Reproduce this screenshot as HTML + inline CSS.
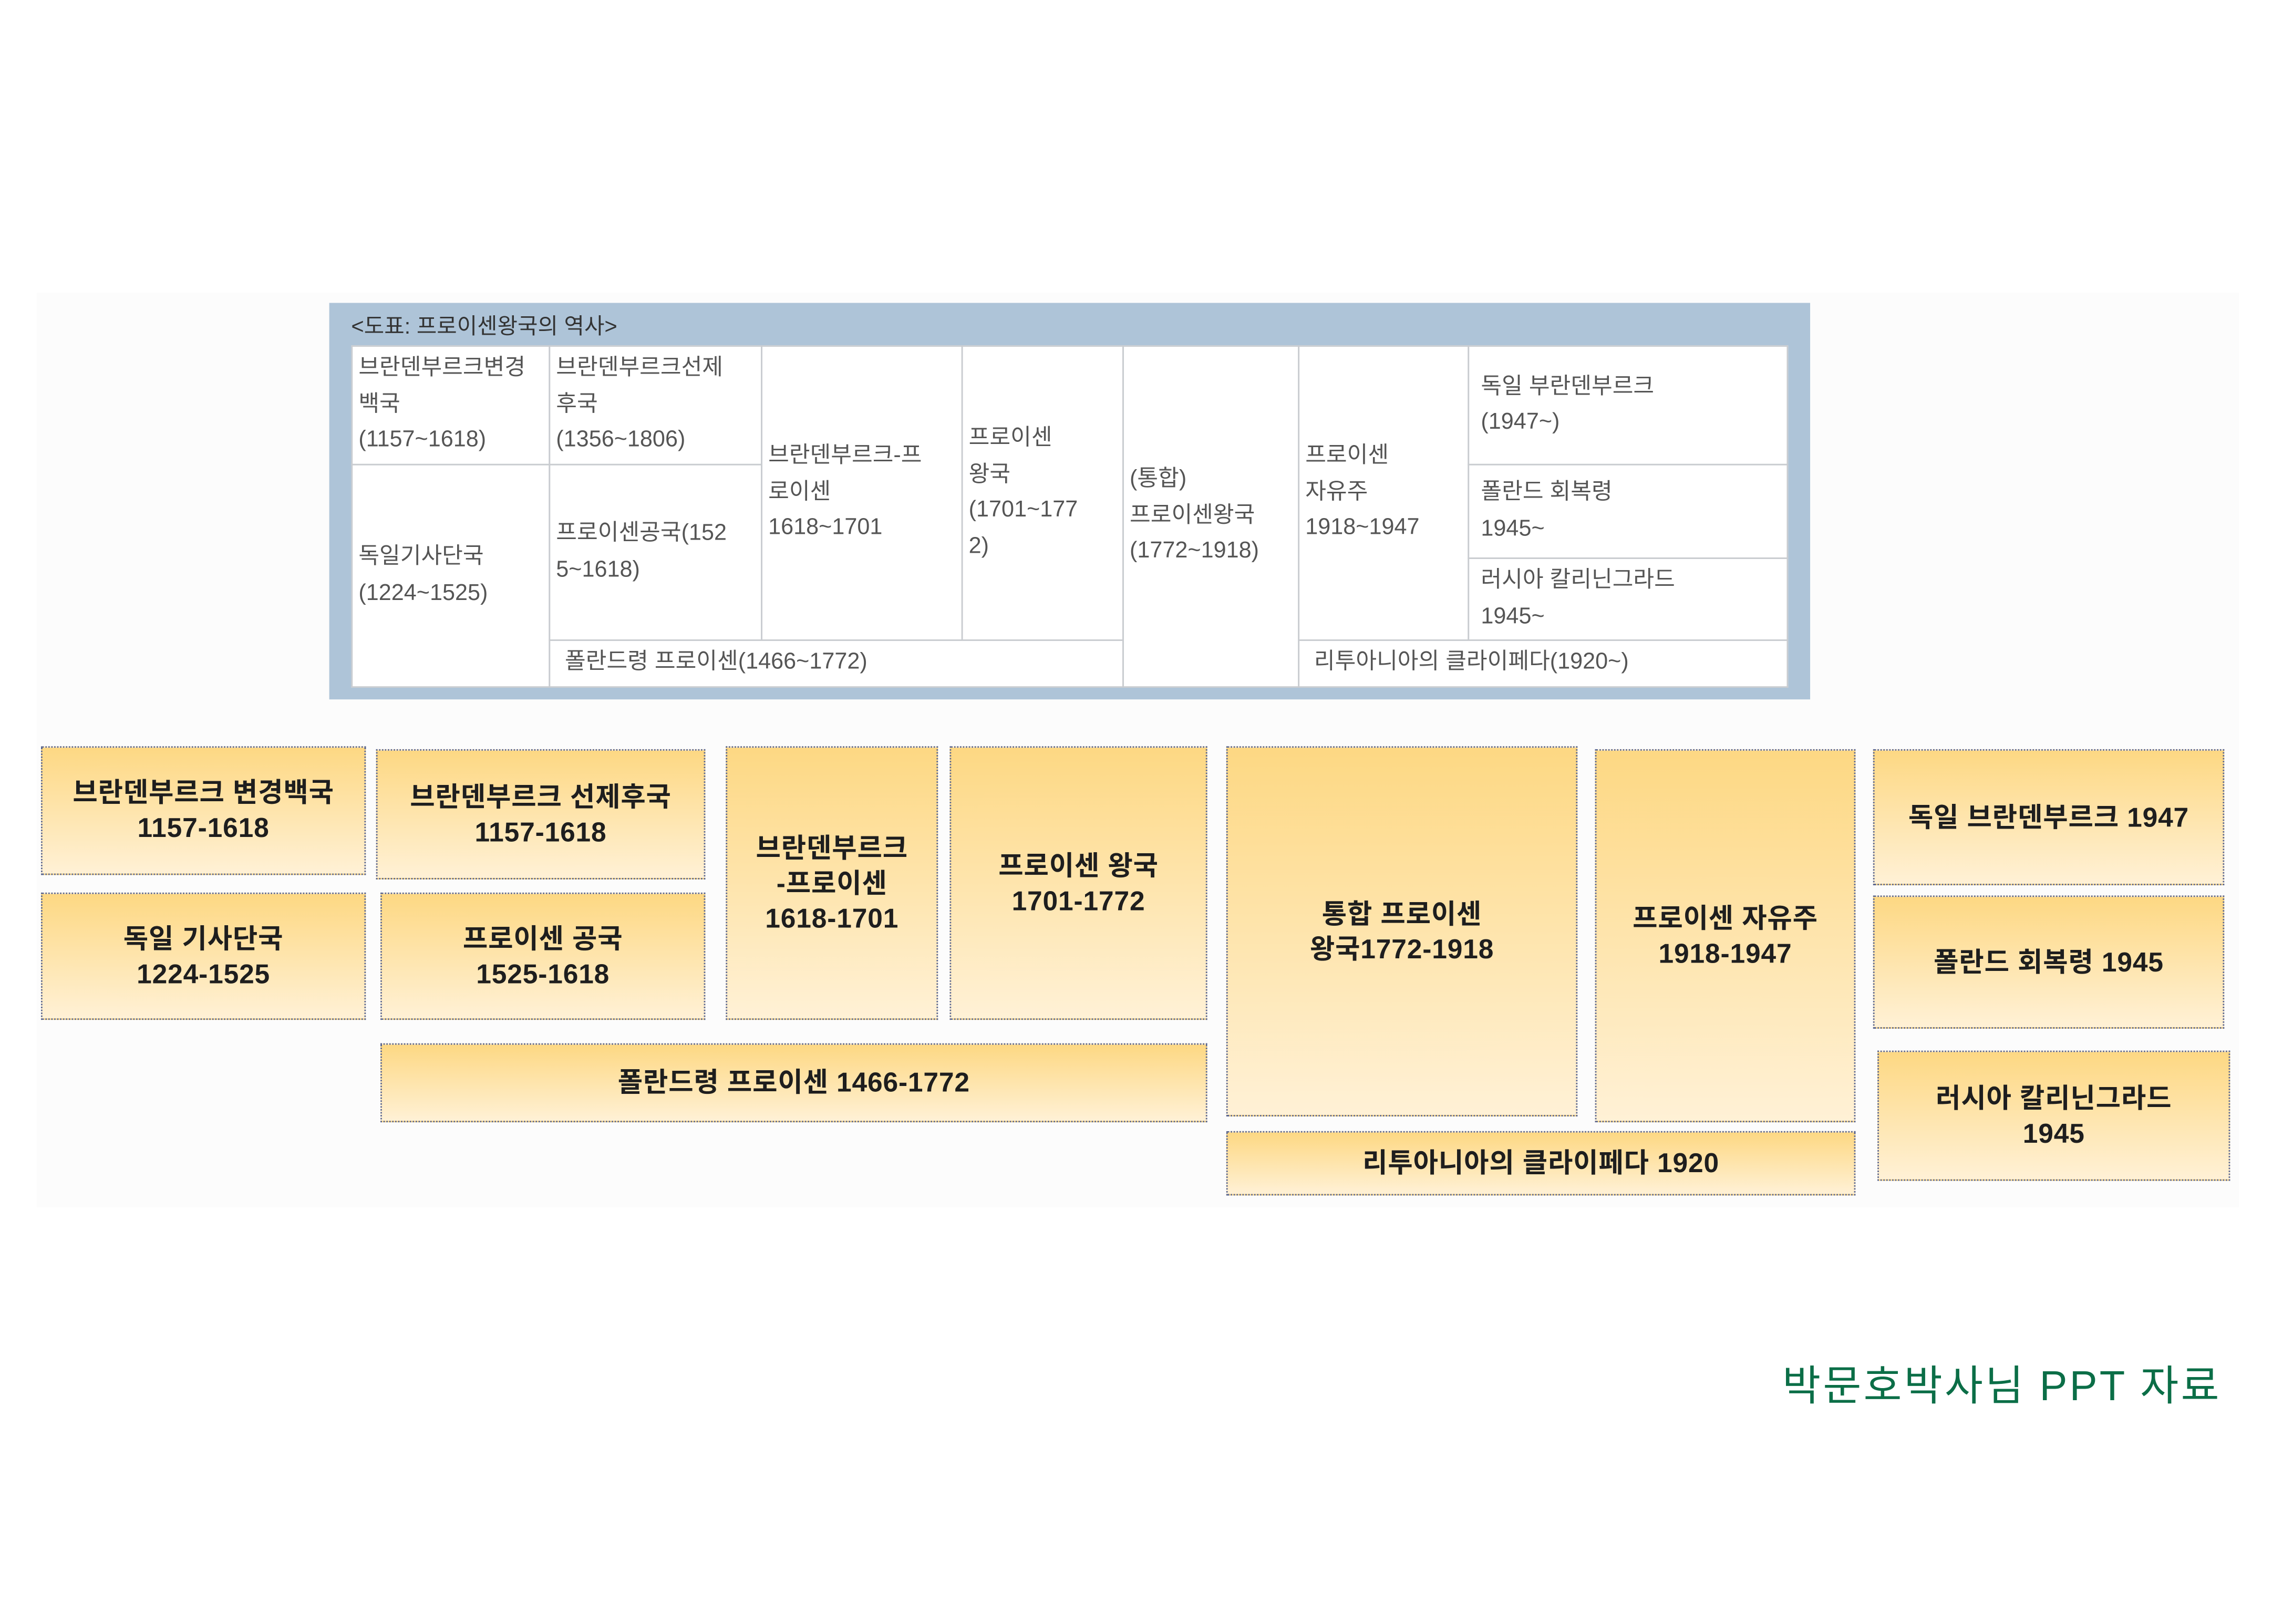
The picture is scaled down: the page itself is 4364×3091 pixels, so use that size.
<!DOCTYPE html>
<html><head><meta charset="utf-8">
<style>
html,body{margin:0;padding:0;background:#fff;}
body{width:4364px;height:3086px;overflow:hidden;position:relative;}
#s{position:absolute;left:0;top:0;width:1570px;height:1110px;transform:scale(2.785);transform-origin:0 0;font-family:"Liberation Sans","Noto Sans CJK KR","NanumGothic",sans-serif;}
.band{position:absolute;left:25px;top:200px;width:1505px;height:625px;background:#fcfcfc;}
.tbl{position:absolute;left:225px;top:207px;width:1012px;height:271px;background:#aec4d8;}
.ttl{position:absolute;left:240px;top:212px;font-size:15px;color:#333;}
.inner{position:absolute;left:240px;top:236px;width:982px;height:234px;background:#fff;}
.c{position:absolute;box-sizing:border-box;border:1px solid #c9ccd0;font-size:15.5px;color:#555;line-height:24.5px;padding:0 4px;overflow:hidden;display:flex;flex-direction:column;justify-content:center;}
.b{position:absolute;box-sizing:border-box;border:1.5px dotted #5a6690;background:linear-gradient(#fdd883,#fff1d6);font-weight:bold;font-size:18.5px;color:#1e1e1e;line-height:24px;text-align:center;display:flex;align-items:center;justify-content:center;letter-spacing:0.3px;}
.ft{position:absolute;top:925px;font-size:28.5px;color:#0b6e47;letter-spacing:1.5px;}
</style></head><body><div id="s">
<div class="band"></div>
<div class="tbl"></div>
<div class="ttl">&lt;도표: 프로이센왕국의 역사&gt;</div>
<div class="inner"></div>
<div class="c" style="left:240px;top:236px;width:136px;height:82px;">브란덴부르크변경<br>백국<br>(1157~1618)</div>
<div class="c" style="left:375px;top:236px;width:146px;height:82px;">브란덴부르크선제<br>후국<br>(1356~1806)</div>
<div class="c" style="left:240px;top:317px;width:136px;height:153px;">독일기사단국<br>(1224~1525)</div>
<div class="c" style="left:375px;top:317px;width:146px;height:121px;">프로이센공국(152<br>5~1618)</div>
<div class="c" style="left:520px;top:236px;width:138px;height:202px;">브란덴부르크-프<br>로이센<br>1618~1701</div>
<div class="c" style="left:657px;top:236px;width:111px;height:202px;">프로이센<br>왕국<br>(1701~177<br>2)</div>
<div class="c" style="left:375px;top:437px;width:393px;height:33px;padding-left:10px;">폴란드령 프로이센(1466~1772)</div>
<div class="c" style="left:767px;top:236px;width:121px;height:234px;">(통합)<br>프로이센왕국<br>(1772~1918)</div>
<div class="c" style="left:887px;top:236px;width:117px;height:202px;">프로이센<br>자유주<br>1918~1947</div>
<div class="c" style="left:1003px;top:236px;width:219px;height:82px;padding-left:8px;">독일 부란덴부르크<br>(1947~)</div>
<div class="c" style="left:1003px;top:317px;width:219px;height:65px;padding-left:8px;">폴란드 회복령<br>1945~</div>
<div class="c" style="left:1003px;top:381px;width:219px;height:57px;padding-left:8px;">러시아 칼리닌그라드<br>1945~</div>
<div class="c" style="left:887px;top:437px;width:335px;height:33px;padding-left:10px;">리투아니아의 클라이페다(1920~)</div>

<div class="b" style="left:28px;top:510px;width:222px;height:88px;">브란덴부르크 변경백국<br>1157-1618</div>
<div class="b" style="left:257px;top:512px;width:225px;height:89px;">브란덴부르크 선제후국<br>1157-1618</div>
<div class="b" style="left:28px;top:610px;width:222px;height:87px;">독일 기사단국<br>1224-1525</div>
<div class="b" style="left:260px;top:610px;width:222px;height:87px;">프로이센 공국<br>1525-1618</div>
<div class="b" style="left:496px;top:510px;width:145px;height:187px;padding-bottom:0;">브란덴부르크<br>-프로이센<br>1618-1701</div>
<div class="b" style="left:649px;top:510px;width:176px;height:187px;padding-bottom:0;">프로이센 왕국<br>1701-1772</div>
<div class="b" style="left:260px;top:713px;width:565px;height:54px;">폴란드령 프로이센 1466-1772</div>
<div class="b" style="left:838px;top:510px;width:240px;height:253px;padding-bottom:0;">통합 프로이센<br>왕국1772-1918</div>
<div class="b" style="left:1090px;top:512px;width:178px;height:255px;padding-bottom:0;">프로이센 자유주<br>1918-1947</div>
<div class="b" style="left:838px;top:773px;width:430px;height:44px;">리투아니아의 클라이페다 1920</div>
<div class="b" style="left:1280px;top:512px;width:240px;height:93px;">독일 브란덴부르크 1947</div>
<div class="b" style="left:1280px;top:612px;width:240px;height:91px;">폴란드 회복령 1945</div>
<div class="b" style="left:1283px;top:718px;width:241px;height:89px;">러시아 칼리닌그라드<br>1945</div>
<div class="ft" style="left:1218px;">박문호박사님 PPT 자료</div>
</div></body></html>
